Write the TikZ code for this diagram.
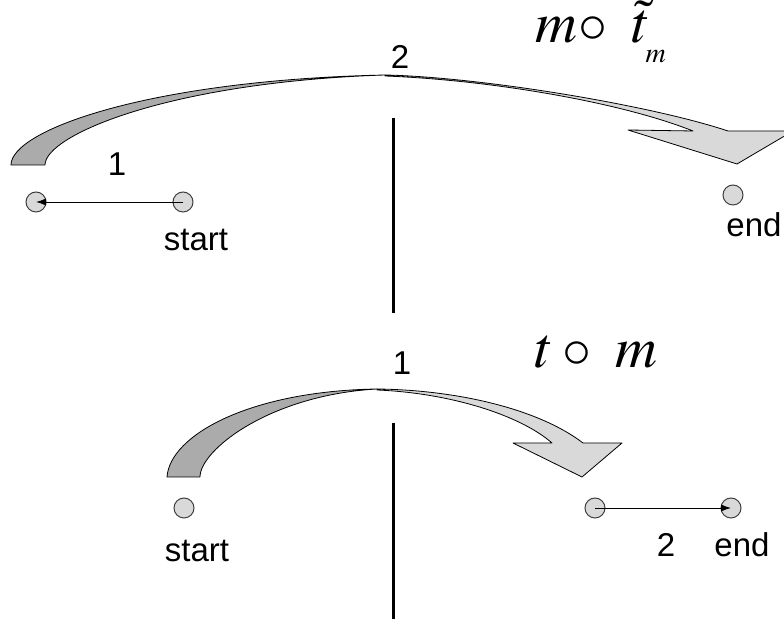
\documentclass[tikz,border=0pt]{standalone}
\usepackage{mathptmx}
\usepackage{fontspec}
\setmainfont{Liberation Sans}
\usetikzlibrary{arrows.meta}
\begin{document}
\begin{tikzpicture}[x = .5pt, y = -.5pt,
    every node/.style = {font = \fontsize{16.5}{19}\selectfont, inner sep = 0pt},
    dot/.style = {circle, draw = black!75, fill = black!15, line width = .5pt,
      minimum size = 10pt},
    band/.style = {draw, line width = .4pt, line join = round},
    link/.style = {-{Latex[length = 5pt, width = 3.5pt]}, line width = .4pt},
    sym/.style = {font = \fontsize{29}{34}\selectfont, anchor = base west}]
  \useasboundingbox (0,0) rectangle (784,619);
  \clip (0,0) rectangle (784,619);
  % upper half
  \fill [band, fill = black!33] (11,165) .. controls (11,130) and (150,80) .. (385,75)
    .. controls (170,82) and (45,135) .. (45,165) -- cycle;
  \fill [band, fill = black!15] (385,75) .. controls (480,77) and (650,105) .. (728,131)
    -- (793,131) -- (737,164) -- (628,130) -- (693,131)
    .. controls (620,102) and (490,80) .. (385,76) -- cycle;
  \draw [line width = 1.5pt] (393,118) -- (393,313);
  \node (o1) [dot] at (36,202) {};
  \node (s1) [dot] at (183,202) {};
  \node (e1) [dot] at (733,195) {};
  \draw [link] (s1.center) -- (o1.center);
  \node (n1) at (117,164) {1};
  \node (n2) at (400,57) {2};
  \node (st1) [anchor = base] at (196,251) {start};
  \node (en1) [anchor = base] at (754,237) {end};
  \node (f1) [sym] at (535,43)
    {$m\!\circ\ \tilde{t}\kern-2.5pt\raisebox{-10pt}{\fontsize{14}{14}\selectfont$m$}$};
  % lower half
  \fill [band, fill = black!33] (167,477) .. controls (170,435) and (250,391) .. (377,389)
    .. controls (270,395) and (200,450) .. (200,477) -- cycle;
  \fill [band, fill = black!15] (377,389) .. controls (460,390) and (540,410) .. (583,443)
    -- (622,443) -- (582,477) -- (513,443) -- (552,443)
    .. controls (520,415) and (450,393) .. (377,390) -- cycle;
  \draw [line width = 1.5pt] (393,423) -- (393,619);
  \node (s2) [dot] at (184,508) {};
  \node (o2) [dot] at (595,508) {};
  \node (e2) [dot] at (731,508) {};
  \draw [link] (o2.center) -- (e2.center);
  \node (n3) at (402,363) {1};
  \node (n4) [anchor = base] at (666,557) {2};
  \node (st2) [anchor = base] at (197,562) {start};
  \node (en2) [anchor = base] at (742,557) {end};
  \node (f2) [sym] at (535,368) {$t\circ\ m$};
\end{tikzpicture}
\end{document}
